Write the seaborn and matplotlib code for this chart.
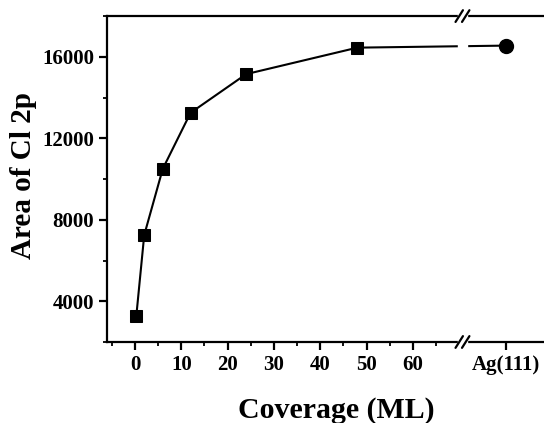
import numpy as np
import matplotlib
matplotlib.use('Agg')
import matplotlib.pyplot as plt
import matplotlib.transforms as mtransforms
import seaborn as sns

# данные
coverage = [0.3, 2, 6, 12, 24, 48]
area = [3300, 7250, 10500, 13250, 15150, 16450]
ag_pos = 80
ag_area = 16550
xticks = [0, 10, 20, 30, 40, 50, 60, ag_pos]
xlabels = ['0', '10', '20', '30', '40', '50', '60', 'Ag(111)']
yticks = [4000, 8000, 12000, 16000]
break_x = 70.7

sns.set_style('ticks', {'axes.edgecolor': 'black', 'text.color': 'black',
                        'xtick.color': 'black', 'ytick.color': 'black',
                        'axes.labelcolor': 'black'})
plt.rcParams['font.family'] = ['Liberation Serif', 'DejaVu Serif']
plt.rcParams['font.weight'] = 'bold'
plt.rcParams['axes.linewidth'] = 1.6

fig = plt.figure(figsize=(5.44, 4.23), dpi=100)
ax = fig.add_axes([0.197, 0.1915, 0.803, 0.7705])

# основная кривая
sns.lineplot(x=coverage, y=area, marker='s', color='black', linewidth=1.5,
             markersize=8.5, markeredgecolor='black', ax=ax)
# продолжение к Ag(111) через разрыв
ax.plot([coverage[-1], ag_pos], [area[-1], ag_area], color='black', lw=1.5, zorder=2)
ax.plot([ag_pos], [ag_area], 'o', color='black', markersize=10, zorder=3)

ax.set_xlim(-6, 88.3)
ax.set_ylim(2000, 18000)
ax.set_xticks(xticks)
ax.set_xticklabels(xlabels)
ax.set_xticks(np.arange(-5, 70, 10), minor=True)
ax.set_yticks(yticks)
ax.set_yticks(np.arange(2000, 18001, 2000), minor=True)
ax.tick_params(axis='both', which='major', direction='out', length=6, width=1.6,
               labelsize=15)
ax.tick_params(axis='both', which='minor', direction='out', length=3, width=1.3)
for lab in ax.get_xticklabels() + ax.get_yticklabels():
    lab.set_fontweight('bold')

ax.spines['right'].set_visible(False)

# разрыв оси
ax.axvspan(break_x - 0.9, break_x + 0.9, ymin=-0.02, ymax=1.02, color='white',
           zorder=3, clip_on=False)
trans = mtransforms.blended_transform_factory(ax.transData, ax.transAxes)
for yy in [0, 1]:
    for dx in [-0.7, 0.7]:
        ax.plot([break_x + dx - 0.8, break_x + dx + 0.8], [yy - 0.018, yy + 0.018],
                color='black', lw=1.6, transform=trans, clip_on=False, zorder=4)

ax.set_xlabel('Coverage (ML)', fontsize=21.5, fontweight='bold')
ax.set_ylabel('Area of Cl 2p', fontsize=21, fontweight='bold')
ax.xaxis.set_label_coords(0.524, -0.17)
ax.yaxis.set_label_coords(-0.16, 0.512)

fig.savefig('out.png', dpi=100)
